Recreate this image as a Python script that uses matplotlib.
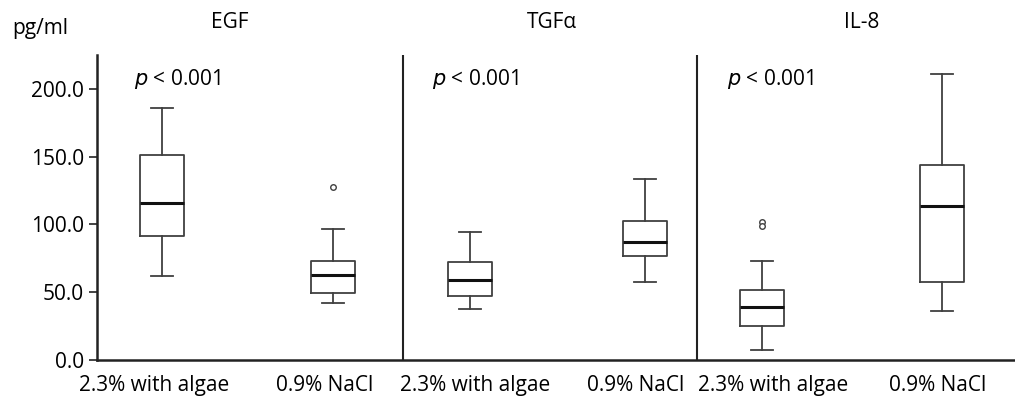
import matplotlib
matplotlib.use("Agg")
import matplotlib.pyplot as plt

plt.rcParams['font.family'] = ['Open Sans', 'DejaVu Sans']

# 값
markers = ['EGF', 'TGFα', 'IL-8']
groups = ['2.3% with algae', '0.9% NaCl'] * 3
whislo = [62.2, 41.8, 37.9, 57.3, 7.4, 36.4]
q1 = [91.7, 49.2, 47.2, 76.8, 25.1, 57.8]
med = [115.6, 62.7, 59.0, 87.0, 39.4, 113.9]
q3 = [151.0, 73.3, 72.5, 102.6, 51.9, 143.9]
whishi = [186.0, 96.7, 94.5, 133.6, 73.3, 211.0]
fliers = [[], [127.9], [], [], [102.0, 99.0], []]
yticks = [0, 50, 100, 150, 200]

# 배치
positions = [0.65, 2.36, 3.73, 5.48, 6.65, 8.45]
label_pos = [0.57, 2.28, 3.78, 5.39, 6.76, 8.41]
dividers = [3.06, 6.0]
title_x = [1.33, 4.55, 7.65]
fs = 15

stats = []
for i in range(6):
    stats.append(dict(whislo=whislo[i], q1=q1[i], med=med[i], q3=q3[i],
                      whishi=whishi[i], fliers=fliers[i]))

fig = plt.figure(figsize=(10.15, 4.07), dpi=100)
ax = fig.add_axes([0.0956, 0.1155, 0.9044, 0.7494])

edge = '#404040'
ax.bxp(stats, positions=positions, widths=0.44, showfliers=True,
       manage_ticks=False,
       boxprops=dict(color=edge, linewidth=1.3),
       whiskerprops=dict(color=edge, linewidth=1.3),
       capprops=dict(color=edge, linewidth=1.3),
       medianprops=dict(color='#111111', linewidth=2.2),
       flierprops=dict(marker='o', markersize=4, markerfacecolor='white',
                       markeredgecolor=edge, markeredgewidth=1.0),
       capwidths=0.22)

for d in dividers:
    ax.axvline(d, color='#222222', linewidth=1.5)

ax.set_xlim(0, 9.18)
ax.set_ylim(0, 225)
ax.set_yticks(yticks)
ax.set_yticklabels([f'{v:.1f}' for v in yticks])
ax.set_xticks(label_pos)
ax.set_xticklabels(groups)
ax.tick_params(axis='x', length=0, pad=11, labelsize=fs)
ax.tick_params(axis='y', length=6, width=1.2, labelsize=fs, color='#222222')

ax.spines['top'].set_visible(False)
ax.spines['right'].set_visible(False)
ax.spines['left'].set_linewidth(1.8)
ax.spines['bottom'].set_linewidth(1.8)
ax.spines['left'].set_color('#222222')
ax.spines['bottom'].set_color('#222222')

for i, m in enumerate(markers):
    ax.text(title_x[i], 1.108, m, transform=ax.get_xaxis_transform(),
            ha='center', va='center', fontsize=fs)
    x0 = [0.37, 3.35, 6.3][i]
    ax.text(x0, 207, r'$p$ < 0.001', ha='left', va='center', fontsize=fs)

fig.text(0.04, 0.93, 'pg/ml', ha='center', va='center', fontsize=fs)

fig.savefig('out.png', dpi=100)
